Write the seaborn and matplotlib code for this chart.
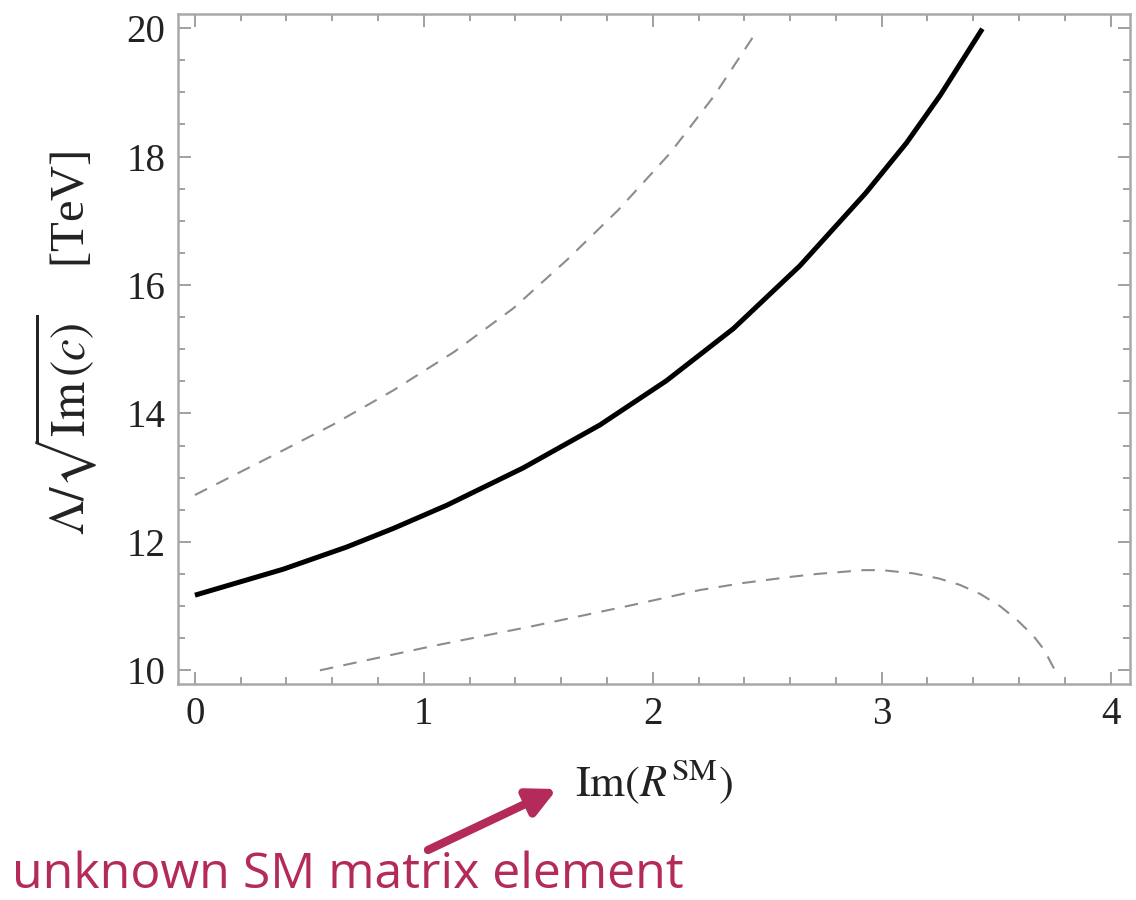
import numpy as np
import pandas as pd
import matplotlib
matplotlib.use("Agg")
import matplotlib.pyplot as plt
import seaborn as sns
from matplotlib.patches import FancyArrowPatch
from matplotlib.ticker import MultipleLocator

# central curve (solid)
central_x = [0.0, 0.386, 0.663, 0.867, 1.1, 1.433, 1.769, 2.06, 2.352, 2.643, 2.93, 3.108, 3.257, 3.44]
central_y = [11.17, 11.575, 11.92, 12.21, 12.57, 13.15, 13.82, 14.51, 15.32, 16.30, 17.43, 18.21, 18.96, 19.99]

# upper band (dashed)
upper_x = [0.0, 0.371, 0.6, 0.867, 1.133, 1.392, 1.625, 1.85, 2.075, 2.267, 2.458]
upper_y = [12.73, 13.40, 13.82, 14.36, 14.96, 15.64, 16.39, 17.17, 18.05, 18.94, 19.97]

# lower band (dashed)
lower_x = [0.546, 1.041, 1.478, 1.915, 2.206, 2.395, 2.614, 2.716, 2.92, 3.0, 3.138,
           3.25, 3.342, 3.43, 3.517, 3.59, 3.662, 3.71, 3.757]
lower_y = [10.0, 10.38, 10.69, 11.02, 11.25, 11.36, 11.46, 11.50, 11.56, 11.56, 11.51,
           11.43, 11.33, 11.19, 11.0, 10.79, 10.54, 10.32, 10.0]

x_ticks = [0, 1, 2, 3, 4]
y_ticks = [10, 12, 14, 16, 18, 20]

sns.set_theme(style="ticks")
plt.rcParams['font.family'] = ['Liberation Serif', 'DejaVu Serif']
plt.rcParams['mathtext.fontset'] = 'stix'

fig = plt.figure(figsize=(11.36, 9), dpi=100)
ax = fig.add_axes([178 / 1136, 1 - 684 / 900, (1130 - 178) / 1136, (684 - 14) / 900])

band_color = "#8c8c8c"
sns.lineplot(x=upper_x, y=upper_y, ax=ax, color=band_color, linewidth=1.5, linestyle=(0, (6.5, 5)))
sns.lineplot(x=lower_x, y=lower_y, ax=ax, color=band_color, linewidth=1.5, linestyle=(0, (6.5, 5)))
sns.lineplot(x=central_x, y=central_y, ax=ax, color="black", linewidth=3.6, solid_capstyle='butt')

ax.set_xlim(-0.074, 4.085)
ax.set_ylim(9.787, 20.22)
ax.set_xticks(x_ticks)
ax.set_yticks(y_ticks)
ax.xaxis.set_minor_locator(MultipleLocator(0.2))
ax.yaxis.set_minor_locator(MultipleLocator(0.5))

frame = "#a8a8a8"
for s in ax.spines.values():
    s.set_color(frame)
    s.set_linewidth(1.8)
ax.tick_params(which='both', direction='in', top=True, right=True, color="#909090", width=1.2)
ax.tick_params(which='major', length=9, labelsize=28, labelcolor="#222222", pad=9)
ax.tick_params(which='minor', length=5)

ax.set_xlabel(r'$\mathrm{Im}(R^{\mathrm{SM}})$', fontsize=32, color="#222222", labelpad=17)
ax.set_ylabel(r'$\Lambda/\sqrt{\mathrm{Im}\,(c)}$    [TeV]', fontsize=35, color="#222222")
ax.yaxis.set_label_coords(-0.082, 0.509)

crimson = "#b42a5a"
fig.text(12 / 1136, 1 - 888 / 900, "unknown SM matrix element", fontsize=36, color=crimson,
         family=['Open Sans', 'DejaVu Sans'], ha='left', va='baseline')
arrow = FancyArrowPatch((428 / 1136, 1 - 850 / 900), (557 / 1136, 1 - 789 / 900),
                        transform=fig.transFigure, arrowstyle='-|>', mutation_scale=42,
                        linewidth=6, color=crimson, shrinkA=0, shrinkB=0)
fig.patches.append(arrow)

fig.savefig("out.png", dpi=100)
